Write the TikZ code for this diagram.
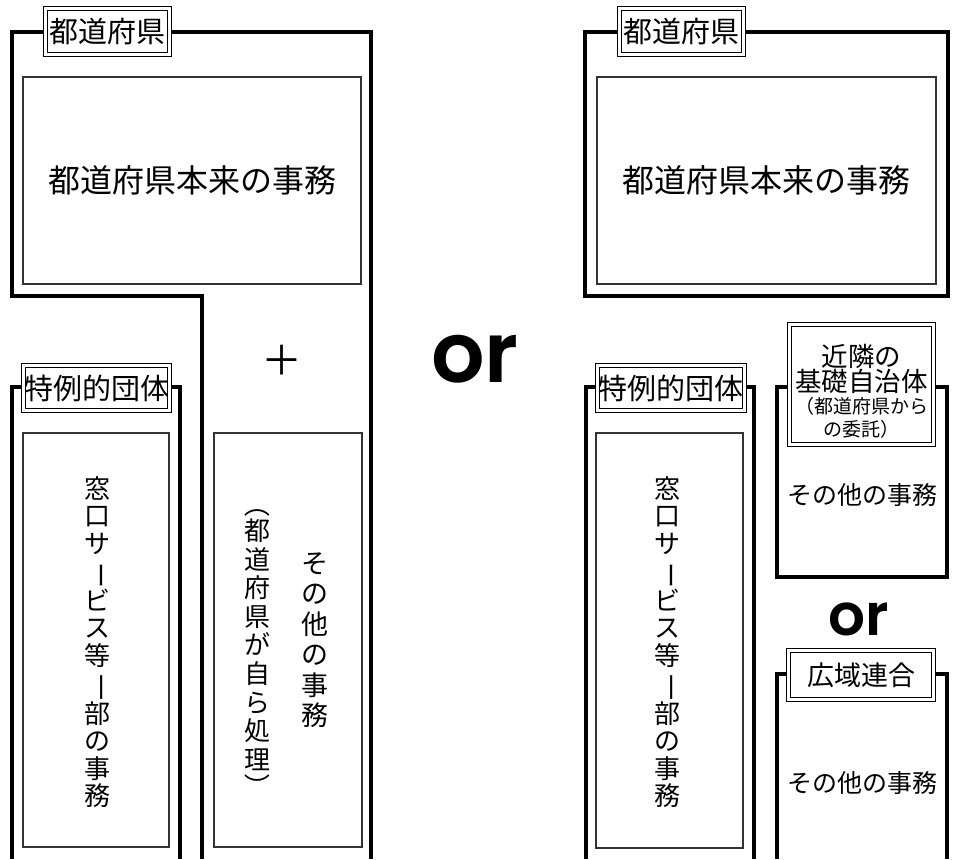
\documentclass[tikz,border=0pt]{standalone}
\usepackage{fontspec}
\usepackage{graphicx}
\newfontfamily\jp{Noto Sans CJK JP}
\newfontfamily\orfont{Poppins}[BoldFont={* SemiBold}]
\usetikzlibrary{positioning}
\newcommand{\tatebo}[1]{\rotatebox[origin=c]{-90}{#1}}

\begin{document}
\begin{tikzpicture}[x=1pt,y=-1pt,
	waku/.style={line width=3.2pt},
	midashi/.style={draw,fill=white,double,line width=1.1pt,double distance=2.4pt,inner sep=0pt,font=\jp\fontsize{29}{29}\selectfont},
	jimu/.style={draw=black!80,line width=1.3pt,inner sep=0pt,font=\jp\fontsize{32}{32}\selectfont},
	tate/.style={align=center,inner sep=0pt,font=\jp\fontsize{26}{27.5}\selectfont},
	orlabel/.style={inner sep=0pt,font=\orfont\bfseries\fontsize{84}{84}\selectfont}]
		\useasboundingbox (0,0) rectangle (957,859);
		% left: todofuken + tokurei
		\draw[waku] (202,859) -- (202,296) -- (12,296) -- (12,32) -- (371,32) -- (371,859);
		\draw[waku] (12,859) -- (12,387) -- (180,387) -- (180,859);
		\node[midashi,minimum width=124pt,minimum height=46pt] (todoL) at (107.5,31.5) {都道府県};
		\node[jimu,minimum width=338pt,minimum height=207pt] (honraiL) at (192,180.5) {都道府県本来の事務};
		\node[font=\jp\fontsize{41}{41}\selectfont] (plus) at (282,360) {＋};
		\node[jimu,minimum width=148pt,minimum height=414pt] (sonotaL) at (288,640) {};
		\node[tate,font=\jp\fontsize{27}{30.5}\selectfont] (sonotaLtxt) at (315,640) {そ\\の\\他\\の\\事\\務};
		\node[tate,font=\jp\fontsize{26}{28.6}\selectfont] (jiraL) at (257,645) {\tatebo{（}\\[-2pt]都\\道\\府\\県\\が\\自\\ら\\処\\理\\[-2pt]\tatebo{）}};
		\node[midashi,minimum width=146pt,minimum height=45pt] (tokureiL) at (96.5,388) {特例的団体};
		\node[jimu,minimum width=146pt,minimum height=414pt] (madoL) at (96,640) {};
		\node[tate] (madoLtxt) at (97,642) {窓\\口\\サ\\\tatebo{ー}\\ビ\\ス\\等\\\tatebo{一}\\部\\の\\事\\務};
		% middle
		\node[orlabel] (orM) at (475,359) {or};
		% right: todofuken
		\draw[waku] (585,32) rectangle (948,296);
		\node[midashi,minimum width=124pt,minimum height=46pt] (todoR) at (681.5,31.5) {都道府県};
		\node[jimu,minimum width=339pt,minimum height=207pt] (honraiR) at (766.5,180.5) {都道府県本来の事務};
		% right: tokurei
		\draw[waku] (586,859) -- (586,387) -- (754,387) -- (754,859);
		\node[midashi,minimum width=147pt,minimum height=45pt] (tokureiR) at (671,388) {特例的団体};
		\node[jimu,minimum width=147pt,minimum height=415pt] (madoR) at (669.5,640.5) {};
		\node[tate] (madoRtxt) at (667,642) {窓\\口\\サ\\\tatebo{ー}\\ビ\\ス\\等\\\tatebo{一}\\部\\の\\事\\務};
		% right: kinrin / kouiki
		\draw[waku] (777,387) rectangle (947,577);
		\node[midashi,minimum width=144pt,minimum height=120pt,align=center,font=\jp\fontsize{26.5}{25}\selectfont] (kinrin) at (861.5,384.5)
			{\rule{0pt}{36pt}近隣の\\基礎自治体\\[-3pt]{\fontsize{19}{21}\selectfont （都道府県から}\\[-2pt]{\fontsize{19}{21}\selectfont の委託）}};
		\node[font=\jp\fontsize{25}{25}\selectfont] (sonotaK) at (862,495) {その他の事務};
		\node[orlabel,font=\orfont\bfseries\fontsize{58}{58}\selectfont] (orR) at (859,619) {or};
		\draw[waku] (777,859) -- (777,674) -- (947,674) -- (947,859);
		\node[midashi,minimum width=145pt,minimum height=49pt,font=\jp\fontsize{27}{27}\selectfont] (kouiki) at (861,675) {広域連合};
		\node[font=\jp\fontsize{25}{25}\selectfont] (sonotaW) at (862,783) {その他の事務};
\end{tikzpicture}
\end{document}
